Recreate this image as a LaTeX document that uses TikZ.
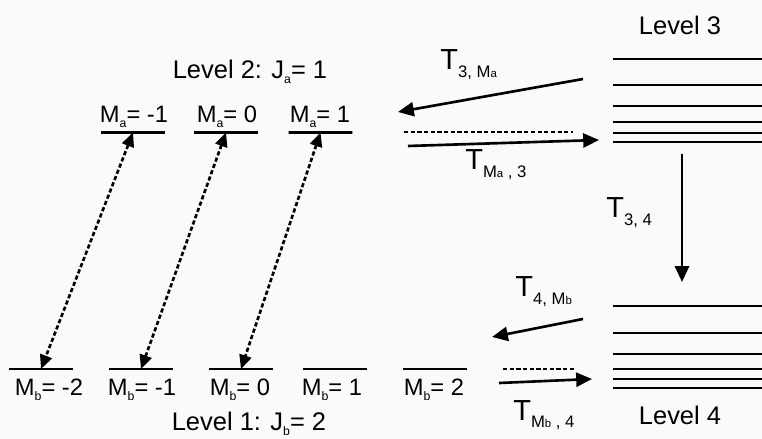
\documentclass[tikz,border=0pt]{standalone}
\usepackage{fontspec}
\setmainfont{Liberation Sans}
\usetikzlibrary{arrows.meta}

\newcommand{\sub}[1]{\raisebox{-0.35ex}{\fontsize{7}{7}\selectfont #1}}
\newcommand{\Msm}[1]{M{\fontsize{6.5}{6.5}\selectfont #1}}
\newcommand{\Tlab}[1]{{\fontsize{16.5}{17}\selectfont T}\raisebox{-4.5pt}{\fontsize{9.5}{9.5}\selectfont #1}}

\tikzset{
  lvl/.style={draw, line width=1.5pt, minimum height=0pt, minimum width=1.28cm, inner sep=0pt, outer sep=0pt},
  band/.style={lvl, minimum width=2.98cm, anchor=west},
  lab/.style={font=\fontsize{13.5}{14}\selectfont, anchor=base, inner sep=0pt},
  head/.style={font=\fontsize{14.5}{15}\selectfont, anchor=base, inner sep=0pt},
  tlab/.style={anchor=base west, inner sep=0pt},
  rate/.style={line width=1.5pt, -{Triangle[length=9pt,width=8pt]}},
  coup/.style={line width=1.5pt, dash pattern=on 2.4pt off 1.4pt,
    {Triangle[length=8pt,width=7pt]}-{Triangle[length=8pt,width=7pt]}},
  dline/.style={line width=1.5pt, dash pattern=on 2.4pt off 1.4pt}
}

\begin{document}
\begin{tikzpicture}[x=0.02cm,y=-0.02cm]
\fill[black!2] (0,0) rectangle (762,439);
\useasboundingbox (0,0) rectangle (762,439);

% level 2 and level 1 sublevels
\node[lvl] (ma1) at (133,132.5) {};
\node[lvl] (ma2) at (226,132.5) {};
\node[lvl] (ma3) at (320.5,132.5) {};
\node[lvl] (mb1) at (41,369) {};
\node[lvl] (mb2) at (141,369) {};
\node[lvl] (mb3) at (241,369) {};
\node[lvl] (mb4) at (335,369) {};
\node[lvl] (mb5) at (435,369) {};

\node[head] (l2) at (250,79) {Level 2: J\sub{a}= 1};
\node[lab] (la1) at (134,123) {M\sub{a}= -1};
\node[lab] (la2) at (227,123) {M\sub{a}= 0};
\node[lab] (la3) at (320,123) {M\sub{a}= 1};
\node[lab] (lb1) at (49,396) {M\sub{b}= -2};
\node[lab] (lb2) at (142,396) {M\sub{b}= -1};
\node[lab] (lb3) at (240,396) {M\sub{b}= 0};
\node[lab] (lb4) at (332,396) {M\sub{b}= 1};
\node[lab] (lb5) at (434,396) {M\sub{b}= 2};
\node[head] (l1) at (249,431) {Level 1: J\sub{b}= 2};

\draw[coup] (ma1.center) -- (mb1.center);
\draw[coup] (ma2.center) -- (mb2.center);
\draw[coup] (ma3.center) -- (mb3.center);

% level 3 and level 4 bands
\foreach \y [count=\i] in {59,85,106,122,133,142}
  \node[band] (u\i) at (613,\y) {};
\foreach \y [count=\i] in {306,333,354,369,379,388}
  \node[band] (d\i) at (613,\y) {};
\node[head] (l3) at (680,35) {Level 3};
\node[head] (l4) at (680,425) {Level 4};

\coordinate (p1) at (583,79);
\coordinate (p2) at (398,112);
\coordinate (p3) at (408,146);
\coordinate (p4) at (599,140);
\coordinate (p5) at (404,132);
\coordinate (p6) at (573,132);
\coordinate (p7) at (682,154);
\coordinate (p8) at (682,282);
\coordinate (q1) at (583,319);
\coordinate (q2) at (492,337);
\coordinate (q3) at (499,383);
\coordinate (q4) at (592,379);
\coordinate (q5) at (503,369);
\coordinate (q6) at (574,369);

\draw[rate] (p1) -- (p2);
\draw[rate] (p3) -- (p4);
\draw[dline] (p5) -- (p6);
\draw[rate] (p7) -- (p8);
\draw[rate] (q1) -- (q2);
\draw[rate] (q3) -- (q4);
\draw[dline] (q5) -- (q6);

\node[tlab] (t1) at (440,70) {\Tlab{3, \Msm{a}}};
\node[tlab] (t2) at (465,170) {\Tlab{\Msm{a} , 3}};
\node[tlab] (t3) at (606,218) {\Tlab{3, 4}};
\node[tlab] (t4) at (515,297) {\Tlab{4, \Msm{b}}};
\node[tlab] (t5) at (513,420) {\Tlab{\Msm{b} , 4}};
\end{tikzpicture}
\end{document}
